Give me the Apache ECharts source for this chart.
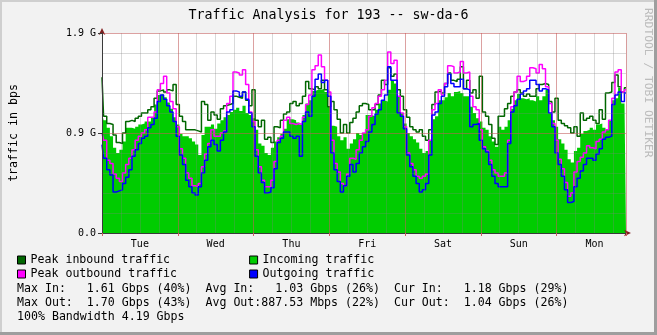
<!DOCTYPE html>
<html>
<head>
<meta charset="utf-8">
<title>Traffic Analysis for 193 -- sw-da-6</title>
<script src="https://cdn.jsdelivr.net/npm/echarts@6/dist/echarts.min.js"></script>
<style>
  html, body { margin: 0; padding: 0; background: #f2f2f2; }
  #chart { width: 657px; height: 335px; }
</style>
</head>
<body>
<div id="chart"></div>
<script>
// Weekly traffic for sw-da-6, one sample per hour, values in Gbps.
const STEP_HOURS = 1;
const dayLabels = ['Tue', 'Wed', 'Thu', 'Fri', 'Sat', 'Sun', 'Mon'];
const yTickValues = [0, 0.95, 1.9];
const yTickLabels = ['0.0', '0.9 G', '1.9 G'];

const peakIn = [
  1.48, 1.11, 1.04, 1.03, 0.93, 0.86, 0.85, 0.95, 1.06, 1.07, 1.06, 1.09, 1.11, 1.14, 1.14, 1.17, 1.20, 1.28, 1.35, 1.36, 1.34,
  1.36, 1.35, 1.41, 1.22, 1.11, 1.06, 0.98, 0.98, 0.98, 0.97, 0.96, 1.25, 1.22, 1.07, 1.15, 1.12, 1.08, 1.18, 1.21, 1.22, 1.23,
  1.30, 1.29, 1.28, 1.34, 1.26, 1.21, 1.36, 1.07, 1.01, 1.07, 0.89, 0.91, 0.86, 1.01, 1.00, 1.07, 1.13, 1.15, 1.23, 1.25, 1.21,
  1.23, 1.30, 1.44, 1.37, 1.36, 1.39, 1.37, 1.45, 1.36, 1.20, 1.25, 1.17, 1.08, 0.95, 1.03, 0.95, 1.05, 1.09, 1.15, 1.21, 1.23,
  1.22, 1.17, 1.17, 1.22, 1.31, 1.45, 1.41, 1.57, 1.49, 1.51, 1.36, 1.30, 1.17, 1.10, 1.01, 0.98, 0.96, 0.98, 0.92, 0.88, 0.98,
  1.22, 1.34, 1.35, 1.33, 1.42, 1.52, 1.45, 1.44, 1.46, 1.58, 1.37, 1.45, 1.33, 1.36, 1.28, 1.49, 1.15, 1.11, 1.03, 0.90, 0.84,
  1.11, 1.11, 1.18, 1.23, 1.30, 1.34, 1.36, 1.33, 1.30, 1.32, 1.30, 1.30, 1.37, 1.41, 1.42, 1.41, 1.25, 1.15, 1.28, 1.07, 1.04,
  1.02, 1.00, 0.95, 1.01, 0.92, 1.14, 1.07, 1.09, 1.11, 1.07, 1.04, 1.17, 1.08, 1.33, 1.34, 1.43, 1.50, 1.39, 1.34, 1.38
];
const incoming = [
  1.14, 1.07, 1.00, 0.92, 0.81, 0.76, 0.79, 0.87, 1.00, 1.00, 0.99, 1.01, 1.03, 1.04, 1.06, 1.06, 1.10, 1.22, 1.31, 1.32, 1.29,
  1.24, 1.18, 1.10, 1.03, 0.94, 0.92, 0.92, 0.90, 0.87, 0.84, 0.74, 0.93, 1.01, 1.01, 1.03, 0.99, 1.04, 1.07, 1.10, 1.12, 1.15,
  1.17, 1.19, 1.16, 1.21, 1.14, 1.12, 1.09, 0.98, 0.85, 0.83, 0.76, 0.74, 0.81, 0.87, 0.91, 0.94, 0.99, 1.08, 1.08, 1.07, 1.05,
  1.03, 1.12, 1.23, 1.26, 1.35, 1.36, 1.36, 1.37, 1.34, 1.20, 1.02, 1.01, 0.92, 0.88, 0.91, 0.80, 0.85, 0.89, 0.95, 0.93, 0.95,
  1.12, 1.12, 1.11, 1.17, 1.23, 1.26, 1.25, 1.36, 1.45, 1.42, 1.30, 1.14, 1.04, 0.95, 0.92, 0.89, 0.86, 0.80, 0.76, 0.78, 0.88,
  1.08, 1.11, 1.26, 1.26, 1.29, 1.33, 1.30, 1.34, 1.35, 1.33, 1.30, 1.30, 1.20, 1.14, 1.09, 1.06, 1.00, 0.98, 0.92, 0.87, 0.82,
  1.01, 0.98, 1.01, 1.07, 1.18, 1.26, 1.32, 1.28, 1.27, 1.28, 1.26, 1.25, 1.30, 1.26, 1.30, 1.36, 1.14, 1.07, 1.01, 0.89, 0.85,
  0.79, 0.70, 0.67, 0.78, 0.81, 0.94, 0.97, 0.98, 1.00, 0.98, 1.03, 1.04, 1.00, 0.98, 1.07, 1.26, 1.28, 1.38, 1.23, 1.30
];
const peakOut = [
  0.95, 0.88, 0.69, 0.66, 0.56, 0.52, 0.49, 0.57, 0.65, 0.71, 0.79, 0.88, 0.92, 0.95, 0.98, 1.10, 1.10, 1.15, 1.36, 1.42, 1.49,
  1.33, 1.25, 1.18, 1.01, 0.80, 0.71, 0.57, 0.52, 0.45, 0.44, 0.47, 0.63, 0.75, 0.85, 0.98, 0.92, 0.92, 0.95, 0.97, 1.23, 1.30,
  1.53, 1.52, 1.50, 1.55, 1.41, 1.15, 1.06, 0.79, 0.63, 0.50, 0.44, 0.44, 0.50, 0.68, 0.88, 0.92, 1.07, 1.10, 1.04, 1.03, 1.04,
  1.03, 1.10, 1.22, 1.31, 1.55, 1.59, 1.69, 1.58, 1.45, 1.34, 0.88, 0.66, 0.58, 0.47, 0.45, 0.56, 0.71, 0.70, 0.79, 0.88, 0.95,
  0.98, 1.11, 1.19, 1.23, 1.30, 1.36, 1.45, 1.72, 1.61, 1.64, 1.30, 1.14, 1.01, 0.76, 0.66, 0.60, 0.54, 0.52, 0.54, 0.56, 0.88,
  1.17, 1.23, 1.36, 1.31, 1.42, 1.59, 1.58, 1.52, 1.53, 1.63, 1.52, 1.53, 1.30, 1.20, 1.17, 0.98, 0.82, 0.78, 0.69, 0.60, 0.57,
  0.54, 0.54, 0.57, 0.88, 1.20, 1.34, 1.49, 1.44, 1.45, 1.49, 1.57, 1.56, 1.52, 1.60, 1.56, 1.39, 1.23, 1.04, 0.88, 0.70, 0.61,
  0.48, 0.35, 0.38, 0.58, 0.68, 0.72, 0.76, 0.83, 0.81, 0.80, 0.87, 0.89, 0.96, 0.98, 1.07, 1.28, 1.53, 1.55, 1.34, 1.36
];
const outgoing = [
  0.84, 0.71, 0.60, 0.55, 0.39, 0.40, 0.41, 0.47, 0.53, 0.60, 0.73, 0.79, 0.85, 0.90, 0.92, 1.00, 1.03, 1.09, 1.25, 1.31, 1.27,
  1.21, 1.15, 1.06, 0.92, 0.74, 0.65, 0.50, 0.44, 0.38, 0.36, 0.44, 0.57, 0.69, 0.82, 0.88, 0.84, 0.78, 0.88, 0.96, 1.15, 1.17,
  1.35, 1.34, 1.30, 1.34, 1.27, 1.14, 1.01, 0.73, 0.57, 0.48, 0.38, 0.39, 0.43, 0.61, 0.86, 0.90, 0.96, 0.96, 0.92, 0.90, 0.92,
  0.73, 1.06, 1.15, 1.11, 1.30, 1.46, 1.51, 1.43, 1.45, 1.30, 0.76, 0.60, 0.49, 0.39, 0.45, 0.54, 0.65, 0.58, 0.66, 0.76, 0.82,
  0.87, 0.96, 1.03, 1.13, 1.17, 1.26, 1.31, 1.58, 1.45, 1.45, 1.14, 1.11, 0.99, 0.74, 0.63, 0.54, 0.47, 0.39, 0.41, 0.47, 0.74,
  1.12, 1.15, 1.23, 1.30, 1.39, 1.51, 1.42, 1.39, 1.39, 1.46, 1.37, 1.36, 1.01, 1.03, 1.04, 0.88, 0.80, 0.77, 0.65, 0.54, 0.47,
  0.44, 0.44, 0.44, 0.85, 1.15, 1.21, 1.27, 1.32, 1.35, 1.37, 1.45, 1.45, 1.41, 1.35, 1.37, 1.36, 1.14, 1.01, 0.76, 0.65, 0.54,
  0.41, 0.29, 0.30, 0.44, 0.52, 0.59, 0.65, 0.71, 0.71, 0.69, 0.75, 0.80, 0.89, 0.91, 0.92, 1.22, 1.31, 1.34, 1.25, 1.33
];

const statLines = [
  'Max In:   1.61 Gbps (40%)  Avg In:   1.03 Gbps (26%)  Cur In:   1.18 Gbps (29%)',
  'Max Out:  1.70 Gbps (43%)  Avg Out:887.53 Mbps (22%)  Cur Out:  1.04 Gbps (26%)',
  '100% Bandwidth 4.19 Gbps'
];

const MONO = "'DejaVu Sans Mono', monospace";
const MINOR_GRID = 'rgba(130,130,130,0.30)';
const MAJOR_GRID = 'rgba(225,70,70,0.38)';
const ARROW = '#801f1f';
const AXIS = '#3a3a3a';

const toPairs = arr => arr.map((v, i) => [i * STEP_HOURS, v]);
const spanHours = (peakIn.length - 1) * STEP_HOURS;

const baseX = {
  type: 'value', min: 0, max: spanHours, position: 'bottom',
  axisLabel: { show: false }, axisTick: { show: false },
  axisLine: { show: false }, splitLine: { show: false }
};
const baseY = {
  type: 'value', min: 0, max: 1.9, position: 'left',
  axisLabel: { show: false }, axisTick: { show: false },
  axisLine: { show: false }, splitLine: { show: false }
};

const legendCommon = {
  orient: 'horizontal', icon: 'rect', itemWidth: 8, itemHeight: 8, padding: 0,
  selectedMode: false,
  itemStyle: { borderColor: '#000', borderWidth: 1 },
  textStyle: { fontFamily: MONO, fontSize: 11.6, color: '#000' }
};

const chart = echarts.init(document.getElementById('chart'));
chart.setOption({
  animation: false,
  backgroundColor: '#f2f2f2',
  title: {
    text: 'Traffic Analysis for 193 -- sw-da-6',
    left: 'center', top: 9, padding: 0,
    textStyle: { fontFamily: MONO, fontSize: 13.3, fontWeight: 'normal', color: '#000' }
  },
  grid: {
    left: 97, top: 33, width: 529, height: 200,
    show: true, backgroundColor: '#ffffff', borderWidth: 0, containLabel: false
  },
  legend: [
    Object.assign({ data: ['Peak inbound traffic', 'Incoming traffic'], left: 17, top: 254, itemGap: 79 }, legendCommon),
    Object.assign({ data: ['Peak outbound traffic', 'Outgoing traffic'], left: 17, top: 268, itemGap: 72 }, legendCommon)
  ],
  xAxis: [
    Object.assign({}, baseX, {
      interval: 6, z: 10,
      splitLine: { show: true, lineStyle: { color: MINOR_GRID, width: 1 } },
      axisLine: { show: true, lineStyle: { color: ARROW, width: 1 },
        symbol: ['none', 'arrow'], symbolSize: [5, 7], symbolOffset: [0, 5] }
    }),
    Object.assign({}, baseX, {
      interval: 24, z: 11,
      splitLine: { show: true, lineStyle: { color: MAJOR_GRID, width: 1 } },
      axisLine: { show: true, lineStyle: { color: AXIS, width: 1 } },
      axisTick: { show: true, length: 3, lineStyle: { color: '#d06060' } }
    }),
    Object.assign({}, baseX, {
      interval: 12, z: 11,
      axisLabel: {
        show: true, margin: 6, fontFamily: MONO, fontSize: 10, color: '#000',
        formatter: v => (v % 24 === 12 ? dayLabels[(v - 12) / 24] : '')
      }
    })
  ],
  yAxis: [
    Object.assign({}, baseY, {
      interval: 0.19, z: 10,
      splitLine: { show: true, lineStyle: { color: MINOR_GRID, width: 1 } },
      axisLine: { show: true, lineStyle: { color: ARROW, width: 1 },
        symbol: ['none', 'arrow'], symbolSize: [5, 7], symbolOffset: [0, 5] }
    }),
    Object.assign({}, baseY, {
      interval: 0.95, z: 11,
      splitLine: { show: true, lineStyle: { color: MAJOR_GRID, width: 1 } },
      axisLine: { show: true, lineStyle: { color: AXIS, width: 1 } },
      axisTick: { show: true, length: 4, lineStyle: { color: AXIS } },
      axisLabel: {
        show: true, margin: 6, fontFamily: MONO, fontSize: 10, color: '#000',
        formatter: v => {
          const i = yTickValues.findIndex(t => Math.abs(t - v) < 1e-6);
          return i >= 0 ? yTickLabels[i] : '';
        }
      },
      name: 'traffic in bps', nameLocation: 'middle', nameGap: 82, nameRotate: 90,
      nameTextStyle: { fontFamily: MONO, fontSize: 11.6, color: '#000' }
    })
  ],
  series: [
    {
      name: 'Incoming traffic', type: 'line', step: 'middle', symbol: 'none', z: 2,
      data: toPairs(incoming), color: '#00cc00',
      lineStyle: { width: 0 }, areaStyle: { color: '#00cc00', opacity: 1 }
    },
    {
      name: 'Peak inbound traffic', type: 'line', step: 'middle', symbol: 'none', z: 3,
      data: toPairs(peakIn), color: '#006600', lineStyle: { width: 1.5 }
    },
    {
      name: 'Peak outbound traffic', type: 'line', step: 'middle', symbol: 'none', z: 4,
      data: toPairs(peakOut), color: '#ff00ff', lineStyle: { width: 1.5 }
    },
    {
      name: 'Outgoing traffic', type: 'line', step: 'middle', symbol: 'none', z: 5,
      data: toPairs(outgoing), color: '#0000ff', lineStyle: { width: 1.5 }
    }
  ],
  graphic: [
    // bevelled frame
    { type: 'rect', silent: true, shape: { x: 0, y: 0, width: 657, height: 2 }, style: { fill: '#cfcfcf' } },
    { type: 'rect', silent: true, shape: { x: 0, y: 0, width: 2, height: 335 }, style: { fill: '#cfcfcf' } },
    { type: 'rect', silent: true, shape: { x: 654, y: 0, width: 3, height: 335 }, style: { fill: '#9e9e9e' } },
    { type: 'rect', silent: true, shape: { x: 0, y: 332, width: 657, height: 3 }, style: { fill: '#9e9e9e' } },
    // watermark
    {
      type: 'text', silent: true, x: 648, y: 8, rotation: -Math.PI / 2,
      style: { text: 'RRDTOOL / TOBI OETIKER', fontFamily: MONO, fontSize: 11.3,
        fill: '#bcbcbc', align: 'left', verticalAlign: 'middle' }
    }
  ].concat(statLines.map((t, i) => ({
    type: 'text', silent: true, x: 17, y: 289 + i * 14,
    style: { text: t, fontFamily: MONO, fontSize: 11.6, fill: '#000', align: 'left', verticalAlign: 'middle' }
  })))
});
</script>
</body>
</html>
